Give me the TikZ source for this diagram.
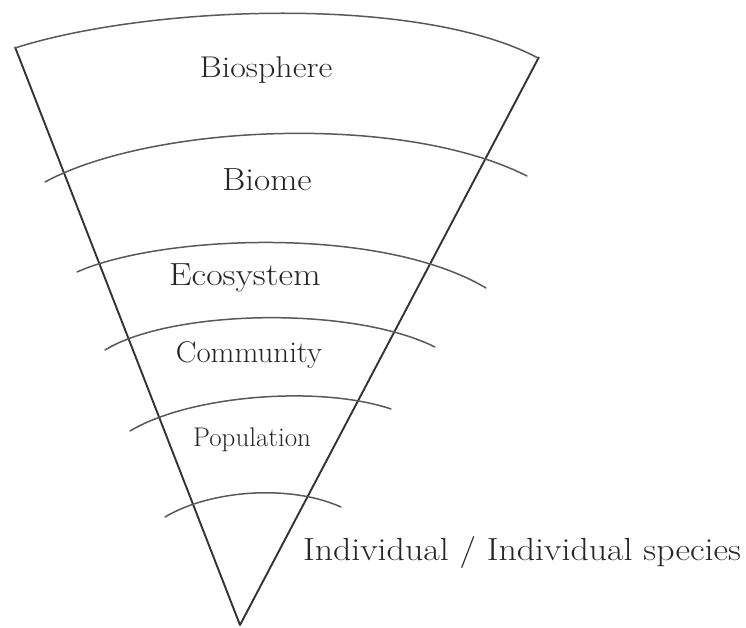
\documentclass[tikz,border=0pt]{standalone}
\usepackage{fontspec}
\usepackage{graphicx}
\begin{document}
\begin{tikzpicture}[x=1pt,y=-1pt,
  side/.style={draw=black!80, line width=1.9pt, line join=round},
  arcline/.style={draw=black!65, line width=1.5pt, line cap=round},
  lab/.style={text=black!85, inner sep=0pt, anchor=center}]
\useasboundingbox[fill=white] (0,0) rectangle (746,628);
% corners of the cone
\coordinate (tl) at (15,47);
\coordinate (tr) at (539,57);
\coordinate (bv) at (240,625);
\draw[side] (tl) -- (bv) -- (tr);
% arcs
\coordinate (a1l) at (15,48);  \coordinate (a1r) at (538,58);
\coordinate (a2l) at (45,182); \coordinate (a2r) at (527,176);
\coordinate (a3l) at (77,272); \coordinate (a3r) at (486,288);
\coordinate (a4l) at (105,350); \coordinate (a4r) at (435,347);
\coordinate (a5l) at (130,431); \coordinate (a5r) at (391,409);
\coordinate (a6l) at (165,517); \coordinate (a6r) at (341,507);
\draw[arcline] (a1l) .. controls (150,5) and (420,-5) .. (a1r);
\draw[arcline] (a2l) .. controls (150,125) and (400,112) .. (a2r);
\draw[arcline] (a3l) .. controls (160,235) and (380,225) .. (a3r);
\draw[arcline] (a4l) .. controls (170,310) and (350,305) .. (a4r);
\draw[arcline] (a5l) .. controls (190,395) and (320,385) .. (a5r);
\draw[arcline] (a6l) .. controls (210,490) and (290,484) .. (a6r);
% labels
\node[lab, font=\fontsize{30}{32}\selectfont] (bios) at (266,70) {\scalebox{1.13}[1]{Biosphere}};
\node[lab, font=\fontsize{32}{34}\selectfont] (biome) at (267,180) {\scalebox{1.1}[1]{Biome}};
\node[lab, font=\fontsize{32}{34}\selectfont] (eco) at (245,278) {\scalebox{1.12}[1]{Ecosystem}};
\node[lab, font=\fontsize{30}{32}\selectfont] (comm) at (249,355) {\scalebox{1.03}[1]{Community}};
\node[lab, font=\fontsize{27}{30}\selectfont] (pop) at (252,440) {Population};
\node[lab, font=\fontsize{32}{34}\selectfont] (ind) at (522,552) {\scalebox{1.12}[1]{Individual / Individual species}};
\end{tikzpicture}
\end{document}
